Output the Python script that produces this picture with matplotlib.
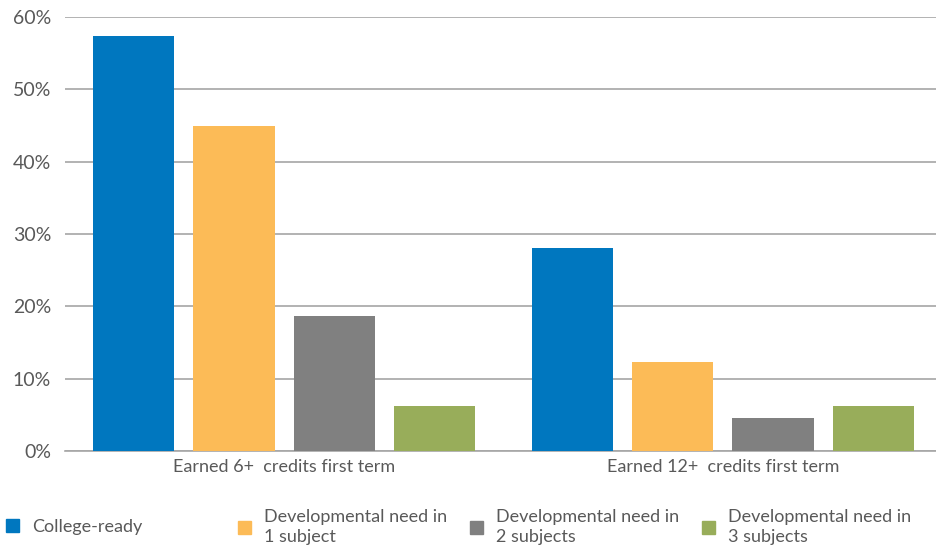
import matplotlib
matplotlib.use("Agg")
import matplotlib.pyplot as plt
import numpy as np
from matplotlib.patches import Patch

plt.rcParams['font.family'] = ['Lato', 'DejaVu Sans']

# data
groups = ["Earned 6+  credits first term", "Earned 12+  credits first term"]
series = ["College-ready", "Developmental need in\n1 subject",
          "Developmental need in\n2 subjects", "Developmental need in\n3 subjects"]
college_ready = [57.4, 28.1]
dev_1 = [44.9, 12.3]
dev_2 = [18.7, 4.6]
dev_3 = [6.2, 6.2]
colors = ["#0077bf", "#fcbb57", "#808080", "#98ad5a"]
text_col = "#595959"

values = [college_ready, dev_1, dev_2, dev_3]

fig = plt.figure(figsize=(9.36, 5.52), dpi=100)
ax = fig.add_axes([0.0694, 0.183, 0.937, 0.786])

x = np.arange(len(groups))
pitch = 0.229
width = 0.185
for i, (vals, col) in enumerate(zip(values, colors)):
    ax.bar(x + (i - 1.5) * pitch, vals, width=width, color=col, zorder=3)

ax.set_xlim(-0.5, 1.5)
ax.set_ylim(0, 60)
ax.set_yticks(np.arange(0, 61, 10))
ax.set_yticklabels([f"{v}%" for v in range(0, 61, 10)])
ax.set_xticks(x)
ax.set_xticklabels(groups)
ax.grid(axis='y', color="#a6a6a6", linewidth=1.2, zorder=0)
for s in ['top', 'right', 'left']:
    ax.spines[s].set_visible(False)
ax.spines['bottom'].set_color("#a6a6a6")
ax.spines['bottom'].set_linewidth(1.2)
ax.tick_params(axis='y', length=0, labelsize=14, labelcolor=text_col, pad=10)
ax.tick_params(axis='x', length=0, labelsize=13, labelcolor=text_col, pad=6)

# one legend per entry so columns sit at even spacing like the original
for i, (name, col) in enumerate(zip(series, colors)):
    fig.legend(handles=[Patch(color=col)], labels=[name],
               loc='center left', bbox_to_anchor=(i * 0.2478 - 0.011, 0.045),
               frameon=False, fontsize=13, handlelength=0.75, handleheight=0.75,
               handletextpad=0.7, labelcolor=text_col, labelspacing=0)
    for t in fig.legends[-1].get_texts():
        t.set_linespacing(1.35)

fig.savefig("out.png", dpi=100)
